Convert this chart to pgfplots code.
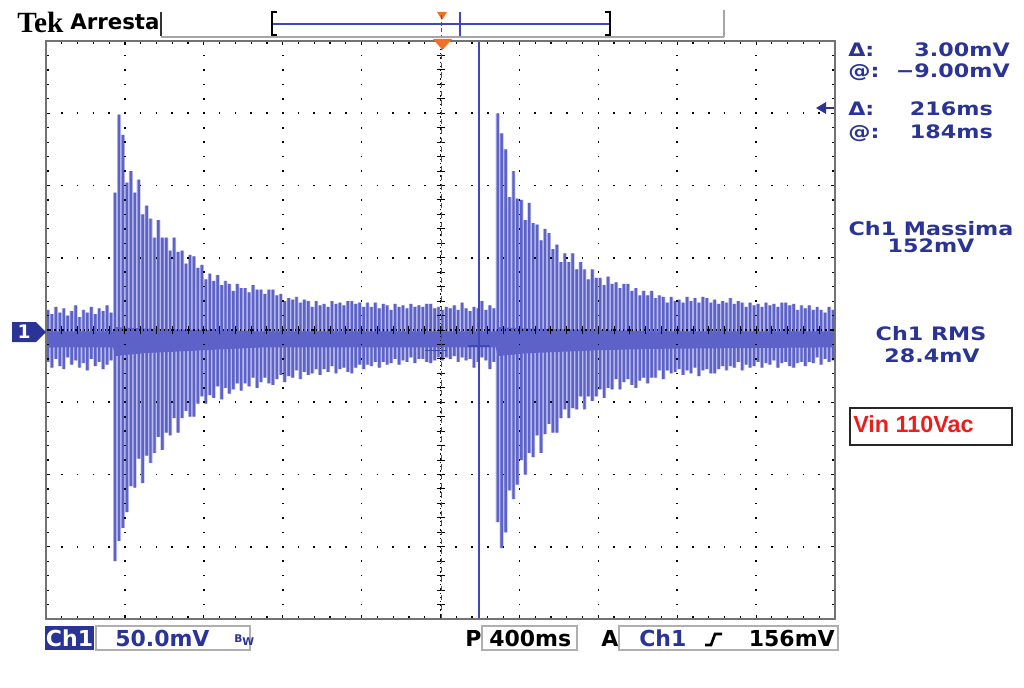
\documentclass[border=0pt]{standalone}
\usepackage{fontspec}
\setmainfont{DejaVu Sans}
\newfontfamily\tekR{DejaVu Sans}[FakeStretch=1.2]
\newfontfamily\tekB{DejaVu Sans}
\newfontfamily\tekserif{Liberation Serif}
\newfontfamily\arialf{Liberation Sans}
\usepackage{pgfplots}
\usepackage{pgfplotstable}
\pgfplotsset{compat=1.18}

\definecolor{sig}{RGB}{92,98,200}
\definecolor{tekblue}{RGB}{42,52,150}
\definecolor{cur}{RGB}{62,72,182}
\definecolor{trig}{RGB}{240,112,40}
\definecolor{framec}{RGB}{115,115,115}
\definecolor{vinred}{RGB}{235,30,30}
\definecolor{boxg}{RGB}{175,175,175}

% t [ms]  hi [mV]  lo [mV]
\pgfplotstableread{
t hi lo
-1990 14 -22
-1970 11 -26
-1950 16 -20
-1930 12 -25
-1910 15 -27
-1890 10 -19
-1870 13 -24
-1850 17 -21
-1830 9 -26
-1810 14 -23
-1790 12 -28
-1770 16 -20
-1750 11 -25
-1730 15 -22
-1710 13 -27
-1690 17 -24
-1670 12 -21
-1650 95 -160
-1630 149 -146
-1610 135 -137
-1590 102 -126
-1570 110 -108
-1550 95 -109
-1530 104 -89
-1510 80 -106
-1490 86 -87
-1470 77 -92
-1450 64 -85
-1430 76 -74
-1410 64 -83
-1390 64 -71
-1370 55 -73
-1350 64 -61
-1330 54 -71
-1310 55 -61
-1290 46 -56
-1270 52 -60
-1250 51 -60
-1230 43 -51
-1210 45 -46
-1190 35 -51
-1170 39 -45
-1150 34 -47
-1130 38 -39
-1110 31 -48
-1090 34 -40
-1070 32 -44
-1050 27 -41
-1030 32 -37
-1010 29 -42
-990 29 -37
-970 26 -39
-950 31 -33
-930 28 -40
-910 28 -36
-890 25 -33
-870 28 -37
-850 28 -38
-830 24 -34
-810 25 -31
-790 20 -36
-770 22 -32
-750 21 -33
-730 23 -28
-710 19 -34
-690 21 -29
-670 20 -31
-650 16 -30
-630 20 -27
-610 17 -31
-590 18 -27
-570 16 -29
-550 20 -25
-530 18 -30
-510 19 -27
-490 17 -26
-470 20 -29
-450 20 -30
-430 18 -26
-410 19 -24
-390 16 -27
-370 19 -24
-350 16 -25
-330 19 -22
-310 15 -26
-290 18 -22
-270 17 -24
-250 14 -23
-230 18 -20
-210 16 -24
-190 17 -21
-170 15 -22
-150 18 -19
-130 16 -23
-110 17 -20
-90 16 -20
-70 18 -22
-50 18 -23
-30 15 -21
-10 16 -19
10 14 -21
30 16 -19
50 15 -20
70 17 -18
90 14 -22
110 19 -19
130 15 -21
150 13 -20
170 16 -26
190 15 -22
210 20 -19
230 14 -21
250 17 -27
270 15 -22
290 150 -133
310 136 -151
330 125 -140
350 92 -111
370 110 -117
390 91 -107
410 90 -90
430 76 -100
450 88 -85
470 74 -88
490 73 -73
510 62 -85
530 70 -72
550 67 -65
570 56 -71
590 59 -71
610 47 -61
630 53 -55
650 47 -61
670 53 -54
690 42 -55
710 47 -46
730 42 -55
750 35 -46
770 42 -49
790 36 -46
810 36 -41
830 31 -47
850 37 -40
870 32 -41
890 33 -34
910 29 -41
930 32 -36
950 32 -34
970 27 -38
990 29 -40
1010 24 -35
1030 27 -33
1050 24 -37
1070 27 -33
1090 22 -33
1110 24 -28
1130 23 -34
1150 19 -28
1170 23 -30
1190 20 -29
1210 21 -27
1230 19 -31
1250 23 -28
1270 20 -30
1290 22 -26
1310 19 -32
1330 23 -28
1350 22 -27
1370 19 -30
1390 21 -30
1410 18 -27
1430 20 -25
1450 19 -28
1470 22 -25
1490 18 -26
1510 20 -22
1530 19 -28
1550 16 -24
1570 19 -26
1590 17 -25
1610 18 -22
1630 16 -26
1650 19 -23
1670 17 -24
1690 18 -21
1710 16 -26
1730 19 -23
1750 19 -22
1770 17 -25
1790 18 -26
1810 14 -23
1830 17 -22
1850 15 -25
1870 17 -22
1890 14 -23
1910 16 -19
1930 14 -24
1950 12 -20
1970 16 -22
1990 14 -21
}\spikes

\begin{document}
\begin{tikzpicture}
\useasboundingbox (0pt,0pt) rectangle (768pt,-516pt);
\begin{axis}[
  at={(34.5pt,-464.25pt)}, anchor=south west,
  scale only axis, width=591.75pt, height=433.5pt,
  xmin=-2000, xmax=2000, ymin=-200, ymax=200,
  xtick={-2000,-1600,...,2000}, ytick={-200,-150,...,200},
  minor x tick num=4, minor y tick num=4,
  xticklabels={}, yticklabels={},
  tick align=inside,
  major tick length=3pt, minor tick length=2.6pt,
  tick style={black, line width=0.9pt},
  xmajorgrids, ymajorgrids,
  x grid style={black, line width=1.2pt, dash pattern=on 1.2pt off 9.6375pt, dash phase=0.6pt},
  y grid style={black, line width=1.2pt, dash pattern=on 1.2pt off 10.635pt, dash phase=0.6pt},
  axis line style={draw=framec, line width=2.2pt},
  axis on top,
]
% light tint between strokes
\addplot[ybar, bar width=2.95pt, bar shift=0pt, fill=sig!42, draw=none, forget plot] table[x=t, y=hi] {\spikes};
\addplot[ybar, bar width=2.95pt, bar shift=0pt, fill=sig!42, draw=none, forget plot] table[x=t, y=lo] {\spikes};
% dense baseline band of the trace
\addplot[fill=sig, draw=none, forget plot] coordinates {
(-2000,-1) (-1660,-1) (-1650,2) (-1500,1) (-1200,0) (-900,-1) (280,-1) (290,2)
(450,1) (800,0) (1100,-1) (2000,-1) (2000,-12) (1100,-13) (800,-14) (450,-16)
(290,-18) (280,-12) (-900,-12) (-1200,-14) (-1500,-16) (-1650,-18) (-1660,-12) (-2000,-12)
} -- cycle;
% spikes: strokes from 0 up to hi and from 0 down to lo
\addplot[ybar, bar width=1.8pt, bar shift=0pt, fill=sig, draw=none, forget plot] table[x=t, y=hi] {\spikes};
\addplot[ybar, bar width=1.8pt, bar shift=0pt, fill=sig, draw=none, forget plot] table[x=t, y=lo] {\spikes};

% centre graticule lines with fine ticks
\draw[black, line width=0.9pt, dash pattern=on 0.9pt off 2.26pt] (axis cs:-2000,0) -- (axis cs:2000,0);
\draw[black, line width=0.9pt, dash pattern=on 0.9pt off 2.26pt] (axis cs:0,-200) -- (axis cs:0,200);
\pgfplotsinvokeforeach{-1920,-1840,...,1920}{\draw[black, line width=0.7pt] (axis cs:#1,0) ++(0pt,-3pt) -- ++(0pt,6pt);}
\pgfplotsinvokeforeach{-190,-180,...,190}{\draw[black, line width=0.7pt] (axis cs:0,#1) ++(-3pt,0pt) -- ++(6pt,0pt);}

% cursors
\draw[cur, line width=1.1pt, dash pattern=on 4pt off 3pt] (axis cs:5,-200) -- (axis cs:5,200);
\draw[cur, line width=1.1pt] (axis cs:195,-200) -- (axis cs:195,200);
\draw[cur, line width=1.1pt] (axis cs:-80,-14) -- (axis cs:33,-14);
\draw[cur, line width=1.1pt] (axis cs:139,-11) -- (axis cs:251,-11);
\end{axis}

\begin{scope}[x=0.75pt, y=-0.75pt]
% top bar
\node[anchor=base west, inner sep=0, font=\tekserif\bfseries\fontsize{22pt}{24pt}\selectfont] at (17,33) {Tek};
\node[anchor=base west, inner sep=0, font=\tekB\bfseries\fontsize{16pt}{20pt}\selectfont] at (70,30) {Arresta};
\draw[black!80, line width=1.2pt] (161,12) -- (161,36);
\draw[black!35, line width=0.8pt] (161,37) -- (724,37);
\draw[black!35, line width=0.8pt] (724,10) -- (724,37);
\draw[black, line width=1.6pt] (277,12) -- (272,12) -- (272,35) -- (277,35);
\draw[black, line width=1.6pt] (605,12) -- (610,12) -- (610,35) -- (605,35);
\draw[cur, line width=1.2pt] (273,24) -- (609,24);
\fill[trig] (437,12) -- (447,12) -- (442,20) -- cycle;
\draw[cur, line width=1.1pt, dash pattern=on 3pt off 2pt] (441.5,15) -- (441.5,36);
\draw[cur, line width=1.1pt] (460,12) -- (460,36);
\fill[trig] (433,39) -- (452,39) -- (442.5,50) -- cycle;

% trigger level arrow
\fill[tekblue] (816,108) -- (826,102) -- (826,114) -- cycle;
\draw[tekblue, line width=2pt] (824,108) -- (834,108);

% channel marker
\fill[tekblue] (12,322) -- (36,322) -- (46,332) -- (36,342) -- (12,342) -- cycle;
\node[white, inner sep=0, font=\tekB\bfseries\fontsize{14pt}{14pt}\selectfont] at (24,332) {1};

% right panel readouts
\begin{scope}[every node/.style={inner sep=0, text=tekblue, font=\tekR\bfseries\fontsize{13.9pt}{15pt}\selectfont}]
\node[anchor=base west] at (848,57) {Δ:};
\node[anchor=base east] at (1010,57) {3.00mV};
\node[anchor=base west] at (848,78) {@:};
\node[anchor=base east] at (1010,78) {−9.00mV};
\node[anchor=base west] at (848,116) {Δ:};
\node[anchor=base east] at (993,116) {216ms};
\node[anchor=base west] at (848,139) {@:};
\node[anchor=base east] at (993,139) {184ms};
\node[anchor=base] at (931,235) {Ch1 Massima};
\node[anchor=base] at (931,252) {152mV};
\node[anchor=base] at (931,340) {Ch1 RMS};
\node[anchor=base] at (932,362) {28.4mV};
\end{scope}

% Vin box
\draw[black!85, line width=1.3pt] (850,408) rectangle (1012,445);
\node[anchor=base west, inner sep=0, text=vinred, font=\arialf\bfseries\fontsize{17.5pt}{18pt}\selectfont] at (853,432) {Vin 110Vac};

% bottom status bar
\begin{scope}[every node/.style={inner sep=0, font=\tekB\bfseries\fontsize{16.5pt}{18pt}\selectfont}]
\fill[tekblue] (45,626) rectangle (94,650);
\node[anchor=base, text=white] at (69.5,646) {Ch1};
\draw[boxg, line width=1.2pt] (96,626) rectangle (250,650);
\node[anchor=base west, text=tekblue] at (115,646) {50.0mV};
\node[anchor=base west, text=black] at (465,646) {P};
\draw[boxg, line width=1.2pt] (482,626) rectangle (577,650);
\node[anchor=base west, text=black] at (489,646) {400ms};
\node[anchor=base west, text=black] at (601,646) {A};
\draw[boxg, line width=1.2pt] (619,626) rectangle (838,650);
\node[anchor=base west, text=tekblue] at (639,646) {Ch1};
\node[anchor=base east, text=black] at (835,646) {156mV};
\end{scope}
\node[anchor=base west, inner sep=0, text=tekblue, font=\tekB\bfseries\fontsize{8pt}{8pt}\selectfont] at (234,642) {B\raisebox{-2.5pt}{W}};
\draw[black, line width=2pt] (705,645) -- (711,645) -- (715,634) -- (722,634);
\end{scope}
\end{tikzpicture}
\end{document}
